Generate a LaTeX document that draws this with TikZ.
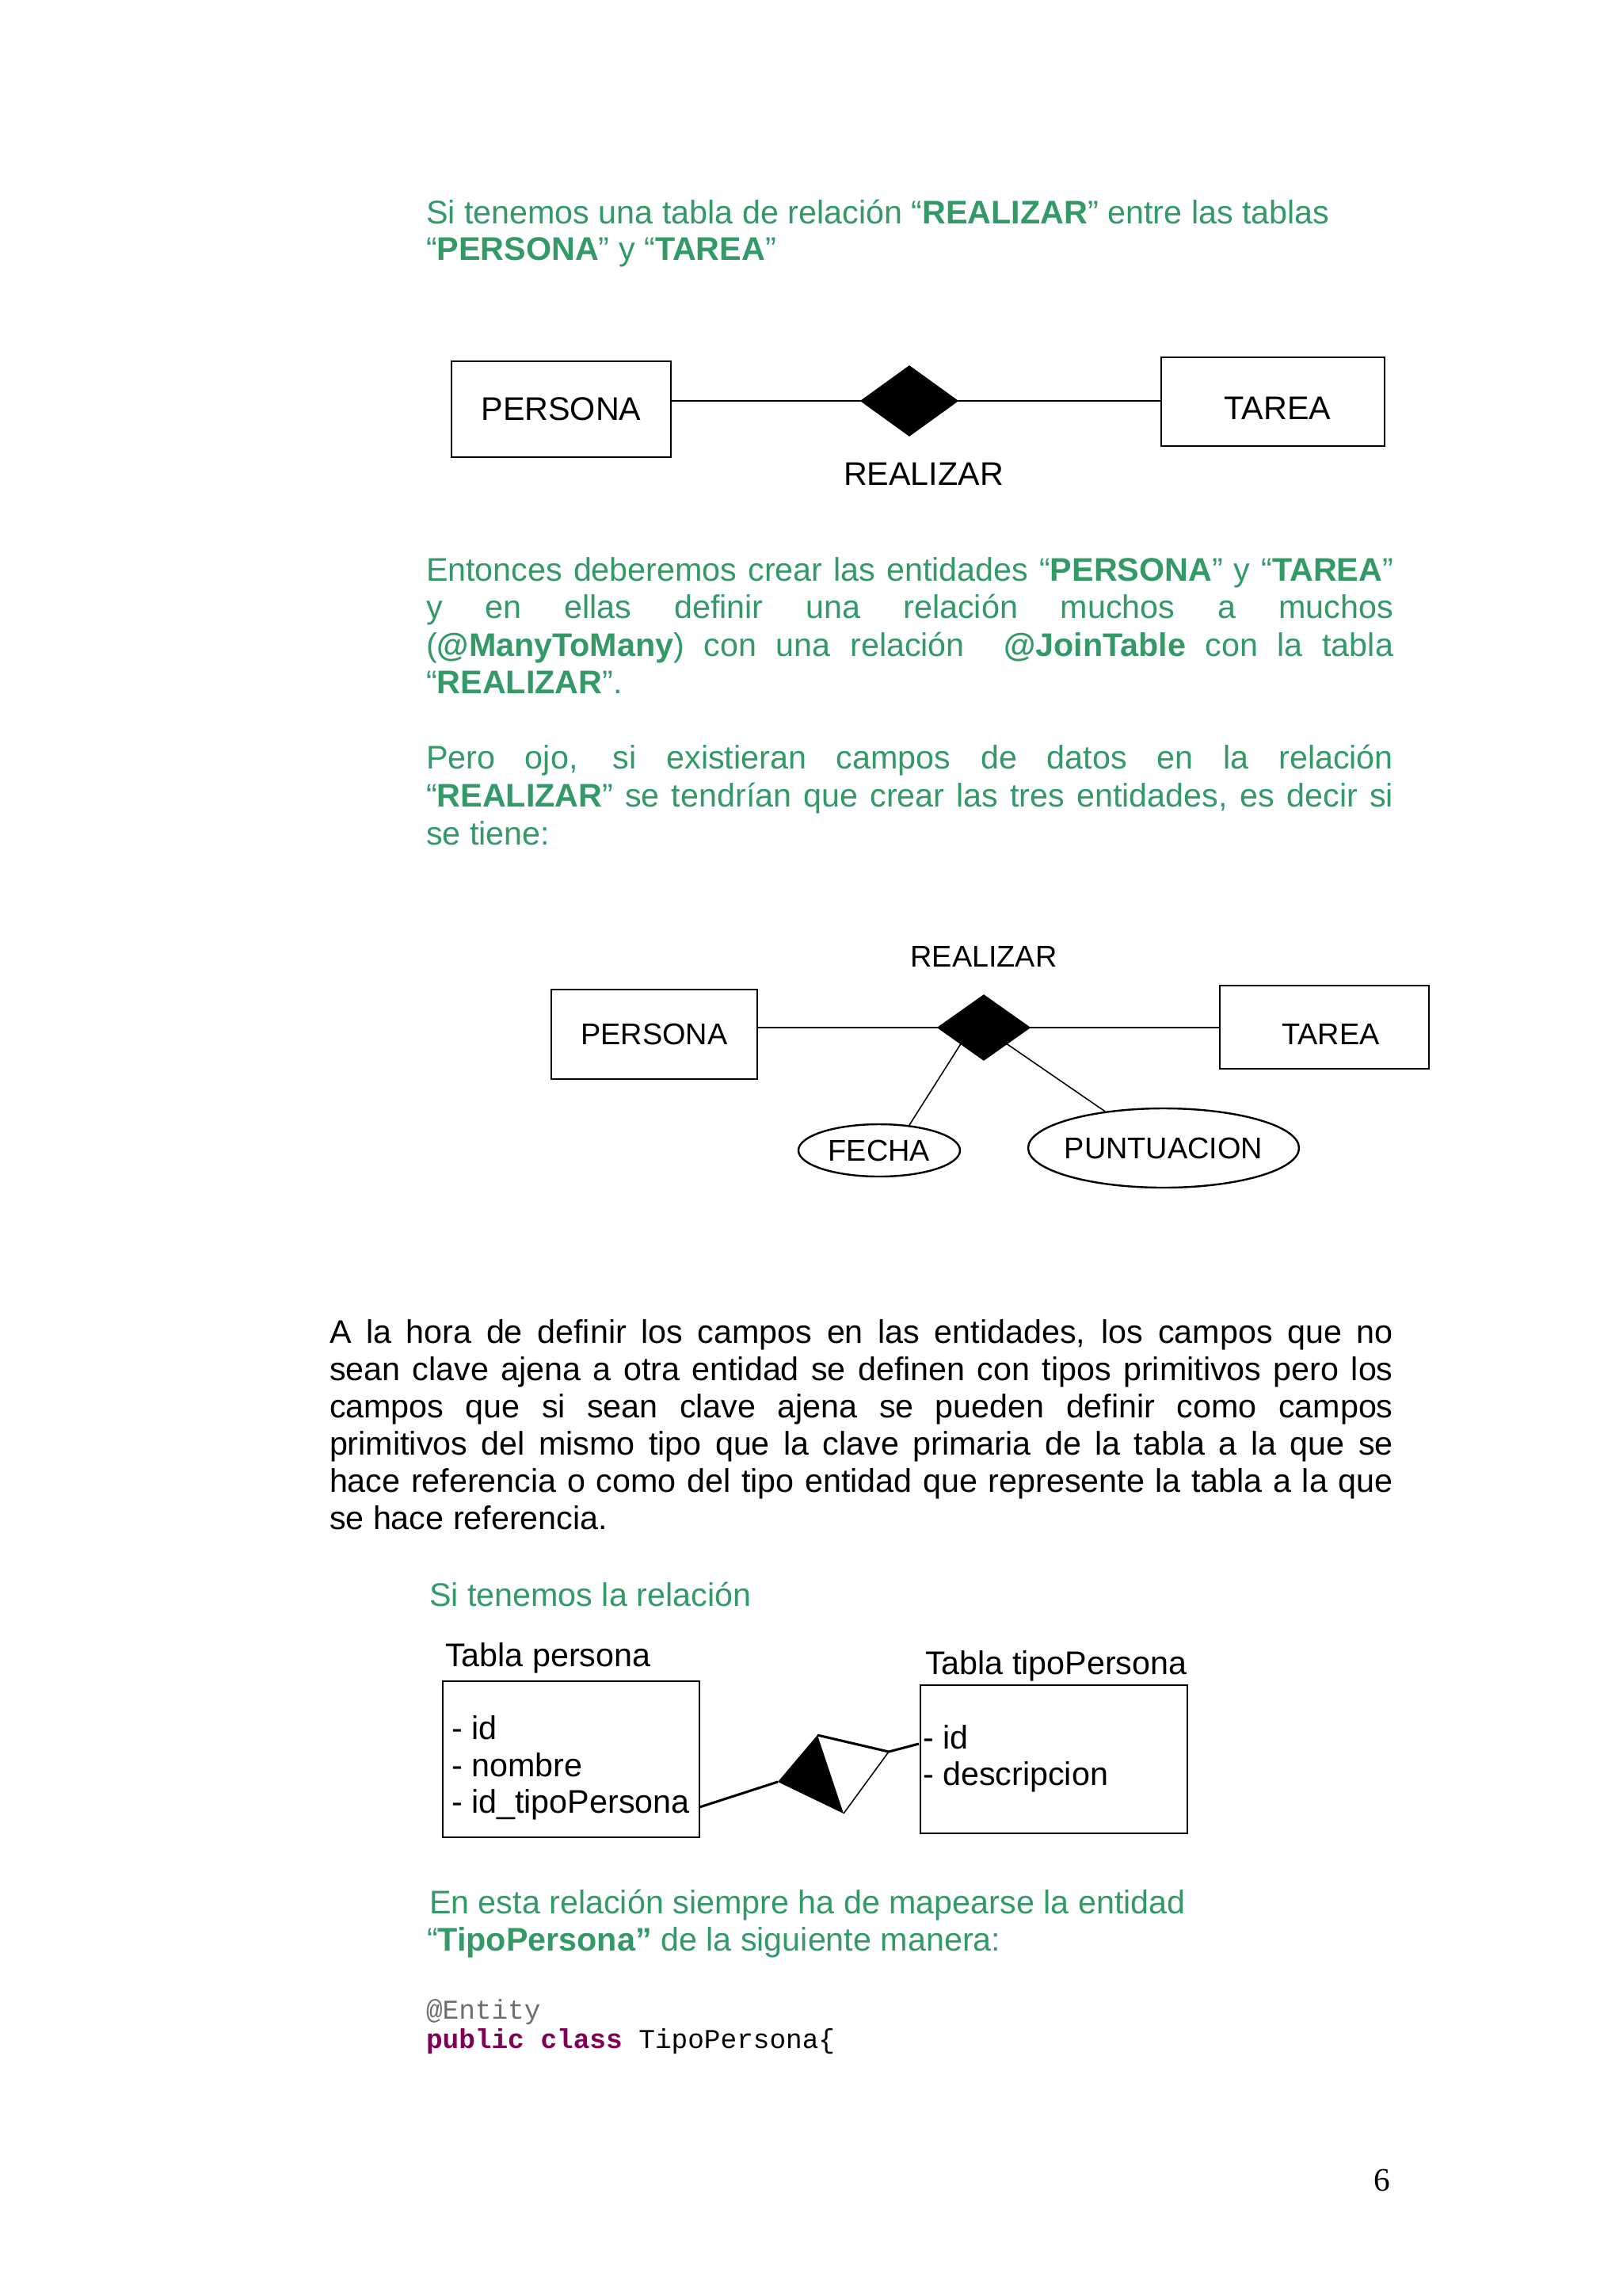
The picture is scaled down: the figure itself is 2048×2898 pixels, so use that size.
\documentclass[tikz,border=0pt]{standalone}
\usepackage{fontspec}
\setmainfont{Liberation Sans}
\setmonofont{Liberation Mono}
\newfontfamily\pagefont{Liberation Serif}
\usetikzlibrary{shapes.geometric}
\definecolor{verde}{RGB}{51,153,102}
\definecolor{kwpurple}{RGB}{127,0,85}
\definecolor{anngray}{RGB}{110,110,110}
\def\PX{0.29065pt}
\newcommand\gjust[1]{\makebox[354.9pt][s]{#1}}
\newcommand\bjust[1]{\makebox[390.3pt][s]{#1}}
\begin{document}
\begin{tikzpicture}[x=0.29065pt,y=-0.29065pt,
  txt/.style={anchor=base west,inner sep=0pt,outer sep=0pt,font=\fontsize{12}{14}\selectfont},
  gtxt/.style={txt,text=verde},
  btxt/.style={txt,text=black},
  codetxt/.style={anchor=base west,inner sep=0pt,outer sep=0pt,font=\ttfamily\fontsize{10}{12}\selectfont},
  erbox/.style={draw,line width=0.8pt,inner sep=0pt,font=\fontsize{12}{14}\selectfont},
  erboxs/.style={draw,line width=0.8pt,inner sep=0pt,font=\fontsize{11}{13}\selectfont},
  rel/.style={diamond,fill=black,draw=black,inner sep=0pt,outer sep=0pt},
  attr/.style={ellipse,draw,line width=0.7pt,inner sep=0pt,font=\fontsize{11}{13}\selectfont},
  conn/.style={line width=0.7pt},
  thinconn/.style={line width=0.45pt},
  lbl/.style={inner sep=0pt,font=\fontsize{12}{14}\selectfont},
  lbls/.style={inner sep=0pt,font=\fontsize{11}{13}\selectfont},
  tbl/.style={draw,line width=0.8pt,inner sep=0pt}
]
\useasboundingbox[fill=white] (0,0) rectangle (2048,2898);

% ---- paragraph 1
\node[gtxt] (a1) at (538,282) {Si tenemos una tabla de relación “\textbf{REALIZAR}” entre las tablas};
\node[gtxt] (a2) at (538,328) {“\textbf{PERSONA}” y “\textbf{TAREA}”};

% ---- diagram 1
\node[erbox,minimum width=277*\PX,minimum height=121*\PX] (p1) at (708.5,516.5) {PERSONA};
\node[erbox,minimum width=282*\PX,minimum height=112*\PX,text height=13.2pt,text depth=0pt] (t1) at (1607,507) {\hspace*{3.5pt}TAREA};
\node[rel,minimum width=122*\PX,minimum height=88*\PX] (d1) at (1148,506) {};
\draw[conn] (p1.east |- d1.west) -- (d1.west);
\draw[conn] (d1.east) -- (t1.west |- d1.east);
\node[lbl] (r1) at (1166,598) {REALIZAR};

% ---- paragraph 2
\node[gtxt] (b1) at (538,733) {\gjust{Entonces deberemos crear las entidades “\textbf{PERSONA}” y “\textbf{TAREA}”}};
\node[gtxt] (b2) at (538,780) {\gjust{y en ellas definir una relación muchos a muchos}};
\node[gtxt] (b3) at (538,828) {\gjust{(\textbf{@ManyToMany}) con una relación\ \ \textbf{@JoinTable} con la tabla}};
\node[gtxt] (b4) at (538,875) {“\textbf{REALIZAR}”.};

% ---- paragraph 3
\node[gtxt] (c1t) at (538,970) {\gjust{Pero ojo, si existieran campos de datos en la relación}};
\node[gtxt] (c2t) at (538,1018) {\gjust{“\textbf{REALIZAR}” se tendrían que crear las tres entidades, es decir si}};
\node[gtxt] (c3t) at (538,1066) {se tiene:};

% ---- diagram 2
\node[lbls] (r2) at (1242,1207) {REALIZAR};
\node[erboxs,minimum width=260*\PX,minimum height=113*\PX] (p2) at (826,1305.5) {PERSONA};
\node[erboxs,minimum width=264*\PX,minimum height=105*\PX,text height=12.6pt,text depth=0pt] (t2) at (1672,1296.5) {\hspace*{4.6pt}TAREA};
\node[rel,minimum width=116*\PX,minimum height=82*\PX] (d2) at (1242,1297) {};
\draw[conn] (p2.east |- d2.west) -- (d2.west);
\draw[conn] (d2.east) -- (t2.west |- d2.east);
\node[attr,minimum width=204*\PX,minimum height=66*\PX] (fe) at (1110,1452) {\makebox[0pt]{FECHA}};
\node[attr,minimum width=342*\PX,minimum height=100*\PX] (pu) at (1469,1449) {\makebox[0pt]{PUNTUACION}};
\draw[thinconn] (d2.south west) -- (fe.40);
\draw[thinconn] (d2.south east) -- (pu.148);

% ---- black paragraph
\node[btxt] (k1) at (416,1695) {\bjust{A la hora de definir los campos en las entidades, los campos que no}};
\node[btxt] (k2) at (416,1742) {\bjust{sean clave ajena a otra entidad se definen con tipos primitivos pero los}};
\node[btxt] (k3) at (416,1789) {\bjust{campos que si sean clave ajena se pueden definir como campos}};
\node[btxt] (k4) at (416,1836) {\bjust{primitivos del mismo tipo que la clave primaria de la tabla a la que se}};
\node[btxt] (k5) at (416,1883) {\bjust{hace referencia o como del tipo entidad que represente la tabla a la que}};
\node[btxt] (k6) at (416,1930) {se hace referencia.};

% ---- diagram 3
\node[gtxt] (s1) at (542,2027) {Si tenemos la relación};
\node[btxt] (tpl) at (562,2103) {Tabla persona};
\node[tbl,minimum width=324*\PX,minimum height=197*\PX] (tp) at (721,2220.5) {};
\node[btxt] (tp1) at (570,2195) {- id};
\node[btxt] (tp2) at (570,2242) {- nombre};
\node[btxt] (tp3) at (570,2288) {- id\_tipoPersona};
\node[btxt] (ttl) at (1168,2113) {Tabla tipoPersona};
\node[tbl,minimum width=337*\PX,minimum height=187*\PX] (tt) at (1330.5,2220.5) {};
\node[btxt] (tt1) at (1165,2207) {- id};
\node[btxt] (tt2) at (1165,2253) {- descripcion};
\coordinate (sA) at (1032,2190);
\coordinate (sL) at (982,2249);
\coordinate (sB) at (1065,2289);
\coordinate (sR) at (1122,2211);
\coordinate (e1) at (883,2281);
\coordinate (e2) at (1160,2201);
\fill[black] (sA) -- (sL) -- (sB) -- cycle;
\draw[line width=0.9pt] (sA) -- (sR);
\draw[line width=0.45pt] (sR) -- (sB);
\draw[line width=0.9pt] (e1) -- (sL);
\draw[line width=0.9pt] (sR) -- (e2);

% ---- last paragraph and code
\node[gtxt] (f1) at (542,2415) {En esta relación siempre ha de mapearse la entidad};
\node[gtxt] (f2) at (539,2462) {“\textbf{TipoPersona”} de la siguiente manera:};
\node[codetxt,text=anngray] (g1) at (538,2548) {@Entity};
\node[codetxt] (g2) at (538,2585) {\textcolor{kwpurple}{\textbf{public class}} TipoPersona\{};

% ---- page number
\node[anchor=base,inner sep=0pt,font=\pagefont\fontsize{12}{14}\selectfont] (pg) at (1745,2765) {6};
\end{tikzpicture}
\end{document}
